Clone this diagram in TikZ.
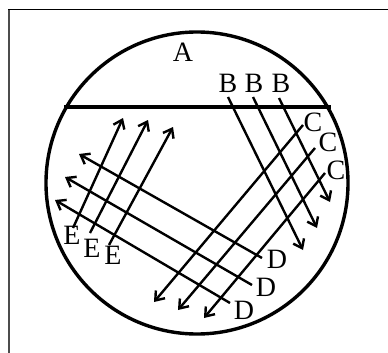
\documentclass[tikz,border=0pt]{standalone}
\usepackage{fontspec}
\setmainfont{Liberation Serif}
\usetikzlibrary{arrows.meta}
\begin{document}
\begin{tikzpicture}[
    x=1pt, y=-1pt,
    letter/.style={font=\fontsize{28}{28}\selectfont, inner sep=0pt},
    rim/.style={line width=3.4pt},
    streak/.style={-{Straight Barb[length=8pt,width=12pt]}, line width=2.4pt}
]
    \useasboundingbox (0,0) rectangle (388,353);
    % frame
    \draw[line width=2pt, black!70] (9,353) -- (9,10);
    \draw[line width=1pt] (8,10) -- (388,10);

    % dish and divide
    \node[draw, circle, rim, minimum size=302pt, inner sep=0pt] (dish) at (197,183) {};
    \coordinate (edgeL) at (64,107);
    \coordinate (edgeR) at (331,107);
    \draw[rim] (edgeL) -- (edgeR);

    \node[letter] (A) at (183,52) {A};
    \node[letter] (B1) at (228,83) {B};
    \node[letter] (B2) at (254,83) {B};
    \node[letter] (B3) at (281,83) {B};
    \node[letter] (C1) at (313,122) {C};
    \node[letter] (C2) at (328,142) {C};
    \node[letter] (C3) at (336,170) {C};
    \node[letter] (D1) at (277,259) {D};
    \node[letter] (D2) at (266,287) {D};
    \node[letter] (D3) at (244,310) {D};
    \node[letter] (E1) at (72,235) {E};
    \node[letter] (E2) at (92,248) {E};
    \node[letter] (E3) at (113,255) {E};

    % streak ends
    \coordinate (b1) at (228,97);  \coordinate (b1e) at (303,250);
    \coordinate (b2) at (253,97);  \coordinate (b2e) at (317,228);
    \coordinate (b3) at (279,98);  \coordinate (b3e) at (330,202);
    \coordinate (c1) at (303,125); \coordinate (c1e) at (154,302);
    \coordinate (c2) at (315,148); \coordinate (c2e) at (178,310);
    \coordinate (c3) at (325,173); \coordinate (c3e) at (204,318);
    \coordinate (d1) at (262,258); \coordinate (d1e) at (79,154);
    \coordinate (d2) at (252,285); \coordinate (d2e) at (65,177);
    \coordinate (d3) at (230,303); \coordinate (d3e) at (55,200);
    \coordinate (e1) at (73,228);  \coordinate (e1e) at (123,118);
    \coordinate (e2) at (90,233);  \coordinate (e2e) at (148,120);
    \coordinate (e3) at (109,245); \coordinate (e3e) at (173,127);

    \draw[streak] (b1) -- (b1e);
    \draw[streak] (b2) -- (b2e);
    \draw[streak] (b3) -- (b3e);
    \draw[streak] (c1) -- (c1e);
    \draw[streak] (c2) -- (c2e);
    \draw[streak] (c3) -- (c3e);
    \draw[streak] (d1) -- (d1e);
    \draw[streak] (d2) -- (d2e);
    \draw[streak] (d3) -- (d3e);
    \draw[streak] (e1) -- (e1e);
    \draw[streak] (e2) -- (e2e);
    \draw[streak] (e3) -- (e3e);
\end{tikzpicture}
\end{document}
